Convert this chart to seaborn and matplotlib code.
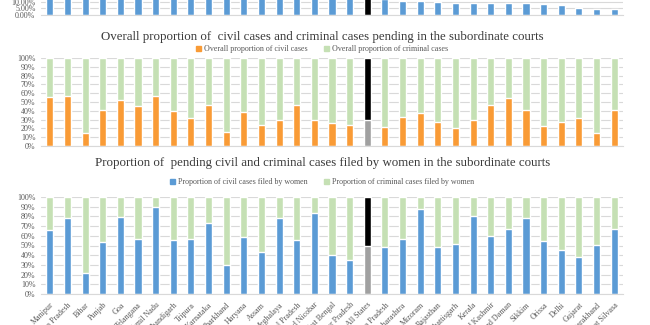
import numpy as np
import pandas as pd
import matplotlib
matplotlib.use("Agg")
import matplotlib.pyplot as plt
from matplotlib.patches import Patch
from matplotlib.ticker import PercentFormatter, MultipleLocator
import seaborn as sns

sns.set_theme(style="white")
plt.rcParams["font.family"] = ["Liberation Serif", "DejaVu Serif"]

states = [
    "Manipur", "Andhra Pradesh", "Bihar", "Punjab", "Goa", "Telangana",
    "Tamil Nadu", "Chandigarh", "Tripura", "Karnataka", "Jharkhand", "Haryana",
    "Assam", "Meghalaya", "Himachal Pradesh", "Andaman and Nicobar",
    "West Bengal", "Uttar Pradesh", "All States", "Madhya Pradesh",
    "Maharashtra", "Mizoram", "Rajasthan", "Chhattisgarh", "Kerala",
    "Jammu and Kashmir", "Diu and Daman", "Sikkim", "Orissa", "Delhi",
    "Gujarat", "Uttarakhand", "Dadra and Nagar Haveli at Silvasa",
]

# share of pending cases (top panel), percent
top_share = [40.0, 35.0, 31.0, 28.0, 26.0, 24.0, 22.0, 20.5, 19.0, 18.0,
             17.0, 16.0, 15.2, 14.6, 14.0, 13.4, 12.9, 12.5, 13.0, 12.0,
             10.5, 10.5, 9.8, 9.2, 9.2, 9.2, 8.7, 8.7, 8.3, 7.7, 5.3, 4.7, 4.3]

# overall proportion of civil cases pending, percent
civil_pending = [56, 57, 14.5, 41, 52, 46, 57, 40, 32, 47, 16, 39, 24, 30, 47,
                 29, 26, 24, 29, 22, 33, 38, 27, 20.5, 30, 46.5, 54, 41, 23,
                 27, 32, 14.5, 40.5]

# proportion of civil cases filed by women, percent
civil_women = [65.5, 78, 22, 54, 79, 57, 90, 56, 57, 73, 29.5, 58.5, 43.5, 78,
               56, 83, 40.5, 35, 49.5, 48, 57, 88, 48.5, 52, 80, 60, 67.5, 78,
               55, 45, 38.5, 50.5, 67.5]

BLUE = "#5B9BD5"
ORANGE = "#F99B36"
GREEN = "#C5E0B4"
BLACK = "#000000"
GREY = "#A0A0A0"
GRID = "#D9D9D9"
TXT = "#595959"

df = pd.DataFrame({
    "state": states,
    "top": top_share,
    "civil": civil_pending,
    "women": civil_women,
})
df["full"] = 100.0

W, H = 650, 325
fig = plt.figure(figsize=(W / 100, H / 100), dpi=100)


def ax_at(x0, y0, x1, y1):
    """Axes from pixel box (top-left origin)."""
    return fig.add_axes([x0 / W, 1 - y1 / H, (x1 - x0) / W, (y1 - y0) / H])


def style(ax, step, fmt_dec):
    ax.set_xlim(-0.5, len(states) - 0.5)
    ax.yaxis.set_major_locator(MultipleLocator(step))
    ax.yaxis.set_major_formatter(PercentFormatter(100, decimals=fmt_dec))
    ax.grid(axis="y", color=GRID, linewidth=0.8)
    ax.set_axisbelow(True)
    for s in ("top", "right", "left"):
        ax.spines[s].set_visible(False)
    ax.spines["bottom"].set_color(GRID)
    ax.spines["bottom"].set_linewidth(0.8)
    ax.tick_params(axis="y", length=0, labelsize=5.8, labelcolor=TXT, pad=4)
    ax.tick_params(axis="x", length=0)
    ax.set_xlabel("")
    ax.set_ylabel("")


def pal(normal, special):
    return {s: (special if s == "All States" else normal) for s in states}


BAR_W = 0.4

# --- top panel (partially outside the canvas) ---
ax0 = ax_at(41, -5, 623, 15)
sns.barplot(data=df, x="state", y="top", hue="state", palette=pal(BLUE, BLACK),
            legend=False, width=BAR_W, saturation=1, ax=ax0)
ax0.set_ylim(0, 15)
style(ax0, 5, 2)
ax0.set_xticklabels([])

# --- middle panel: civil vs criminal pending ---
ax1 = ax_at(41, 58, 623, 146)
sns.barplot(data=df, x="state", y="full", hue="state", palette=pal(GREEN, BLACK),
            legend=False, width=BAR_W, saturation=1, ax=ax1)
sns.barplot(data=df, x="state", y="civil", hue="state", palette=pal(ORANGE, GREY),
            legend=False, width=BAR_W, saturation=1, ax=ax1)
ax1.set_ylim(0, 100)
style(ax1, 10, 0)
ax1.set_xticklabels([])

fig.text(0.496, 1 - 37 / H,
         "Overall proportion of  civil cases and criminal cases pending in the subordinate courts",
         ha="center", va="center", fontsize=9.3, color="#3A3A3A")
ax1.legend(handles=[Patch(color=ORANGE, label="Overall proportion of civil cases"),
                    Patch(color=GREEN, label="Overall proportion of criminal cases")],
           loc="center", bbox_to_anchor=(0.496, 1 - 49 / H), bbox_transform=fig.transFigure,
           ncol=2, frameon=False, fontsize=5.8, handlelength=0.6, handleheight=0.6,
           handletextpad=0.4, columnspacing=2.0, labelcolor=TXT)

# --- bottom panel: cases filed by women ---
ax2 = ax_at(41, 197, 623, 294)
sns.barplot(data=df, x="state", y="full", hue="state", palette=pal(GREEN, BLACK),
            legend=False, width=BAR_W, saturation=1, ax=ax2)
sns.barplot(data=df, x="state", y="women", hue="state", palette=pal(BLUE, GREY),
            legend=False, width=BAR_W, saturation=1, ax=ax2)
ax2.set_ylim(0, 100)
style(ax2, 10, 0)
ax2.set_xticks(range(len(states)))
ax2.set_xticklabels(states, rotation=45, ha="right", rotation_mode="anchor",
                    fontsize=5.8, color=TXT)
ax2.tick_params(axis="x", pad=5)

fig.text(0.496, 1 - 163 / H,
         "Proportion of  pending civil and criminal cases filed by women in the subordinate courts",
         ha="center", va="center", fontsize=9.3, color="#3A3A3A")
ax2.legend(handles=[Patch(color=BLUE, label="Proportion of civil cases filed by women"),
                    Patch(color=GREEN, label="Proportion of criminal cases filed by women")],
           loc="center", bbox_to_anchor=(0.496, 1 - 182 / H), bbox_transform=fig.transFigure,
           ncol=2, frameon=False, fontsize=5.8, handlelength=0.6, handleheight=0.6,
           handletextpad=0.4, columnspacing=2.0, labelcolor=TXT)

fig.savefig("out.png", dpi=100)
